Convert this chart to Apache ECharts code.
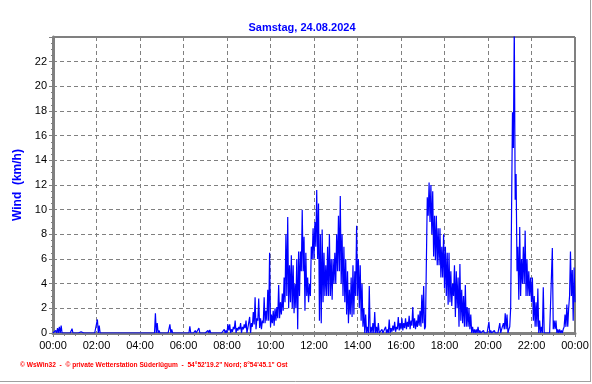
<!DOCTYPE html>
<html>
<head>
<meta charset="utf-8">
<script src="https://cdn.jsdelivr.net/npm/echarts@6/dist/echarts.min.js"></script>
<style>
  html, body { margin: 0; padding: 0; background: #fff; }
  #chart { width: 592px; height: 384px; }
</style>
</head>
<body>
<div id="chart"></div>
<script>
// ---- data ----
const chartTitle = 'Samstag, 24.08.2024';
const yAxisTitle = 'Wind  (km/h)';
const footerText = '\u00A9 WsWin32  -  \u00A9 private Wetterstation S\u00FCderl\u00FCgum  -  54\u00B052\'19.2" Nord; 8\u00B054\'45.1" Ost';
const xTickLabels = ['00:00','02:00','04:00','06:00','08:00','10:00','12:00','14:00','16:00','18:00','20:00','22:00','00:00'];
const yTickValues = [0,2,4,6,8,10,12,14,16,18,20,22];
const binMinutes = 5;
// wind speed (km/h) per 5-minute bin, 00:00 .. 23:55: lowest reading in the bin
const windLow = [
  0,0,0,0,0,0,0,0,0,0,0,0,
  0,0,0,0,0,0,0,0,0,0,0,0,
  0,0,0,0,0,0,0,0,0,0,0,0,
  0,0,0,0,0,0,0,0,0,0,0,0,
  0,0,0,0,0,0,0,0,0,0,0,0,
  0,0,0,0,0,0,0,0,0,0,0,0,
  0,0,0,0,0,0,0,0,0,0,0,0,
  0,0,0,0,0,0,0,0,0,0,0,0,
  0,0.2,0,0.1,0.3,0,0.2,0.3,0,0.3,0.4,0,
  0.3,0,0.5,0.7,0.3,1.0,0.4,0.3,0.8,0.8,1.0,1.0,
  0.5,0.8,0.6,1.0,1.2,1.2,1.5,1.8,2.5,3.0,2.0,2.5,
  2.0,1.6,2.0,0.3,3.0,5.0,5.0,1.8,3.0,2.5,3.0,6.0,
  6.0,7.0,6.0,1.0,0.8,2.5,3.0,3.0,3.0,3.0,2.7,4.0,
  4.0,5.0,5.0,4.0,3.0,2.5,1.5,0.8,1.5,1.3,1.5,3.0,
  3.0,2.0,1.0,0.5,0,0,0,0,0,0,0,0,
  0,0,0,0,0,0,0,0.1,0.2,0.1,0.3,0.2,
  0.3,0.2,0.4,0.3,0.5,0.3,0.6,0.4,0.3,0.5,0.6,0.5,
  0.8,0.3,0.5,9.5,9.0,8.0,6.2,5.9,5.5,5.5,4.5,4.5,
  3.6,3.0,2.3,2.5,2.2,3.0,1.3,2.0,0.5,1.0,0.8,0.5,
  0.5,0.5,0.3,0,0,0,0,0,0,0,0,0,
  0,0,0,0,0,0,0,0,0.2,0.3,0.3,0,
  0.5,2.0,15.0,10.8,5.0,2.7,3.0,4.0,4.0,3.0,3.0,3.0,
  2.5,1.0,0.5,0.5,0,0,0,0,0,0,0,0,
  0.3,0.3,0,0,0,0,0.5,0.5,0.5,3.0,3.0,1.0
];
// highest reading in the same bins
const windHigh = [
  0,0.2,0.4,0.5,0.6,0,0,0,0,0,0.35,0,
  0,0,0,0.1,0,0,0,0,0,0,0,0,
  1.1,0.6,0,0,0,0,0,0,0,0,0,0,
  0,0,0,0,0,0,0,0,0,0,0,0,
  0,0,0,0,0,0,0,0,1.6,0.8,0.2,0,
  0,0,0,0,0.7,0.3,0,0,0,0,0,0,
  0,0,0,0.55,0,0,0.2,0,0.4,0,0,0.15,
  0,0.2,0.25,0,0,0,0,0,0,0,0.3,0.2,
  0.7,0.7,0.3,0.5,1.0,0.4,0.5,0.8,0.5,0.7,1.0,0.4,
  1.3,0.8,1.7,2.9,1.2,2.8,1.2,1.0,2.9,1.8,3.5,6.5,
  1.5,1.8,2.0,2.1,3.9,2.5,3.2,4.5,8.0,9.4,5.5,6.3,
  5.5,4.0,6.0,6.6,6.6,10.0,7.8,6.5,4.5,4.0,7.0,8.5,
  9.0,11.6,10.5,8.0,8.4,6.5,5.5,7.0,8.0,6.0,6.0,6.5,
  8.0,9.5,11.1,8.0,7.0,6.0,5.0,3.5,4.5,5.5,5.0,8.7,
  6.0,5.5,4.0,2.0,1.5,0.5,3.8,0.5,0.8,1.7,0.5,0.8,
  0.1,0.3,0.1,0.5,0.3,1.1,0.4,0.6,0.9,0.5,1.3,0.8,
  1.2,0.8,1.2,0.9,1.4,1.0,2.1,1.2,1.0,1.5,1.8,3.1,
  3.8,0.5,11.0,12.2,12.0,11.5,9.5,9.5,8.5,8.5,7.0,8.0,
  7.0,6.5,6.5,5.0,4.0,5.5,5.0,4.5,5.6,3.5,3.0,3.9,
  2.1,2.0,1.5,0.5,0.3,0.3,0.5,0.2,0.1,0.2,0.1,0,
  0.9,0.2,0,0.2,0.1,0,0.8,0.3,0.8,1.6,1.5,0.3,
  2.0,17.9,25,12.9,7.0,8.6,6.0,7.0,8.3,6.0,5.0,4.5,
  4.5,3.0,2.5,3.6,1.0,0.5,3.7,0,0,0,0,6.9,
  1.0,1.0,0.3,0.3,0.2,0.3,1.5,2.3,2.0,6.6,5.1,5.3
];
const windAtMidnightEnd = 2.5;

// build the line: each bin's low at its start, its high half a bin later
const seriesData = [];
windLow.forEach((lo, i) => {
  seriesData.push([i * binMinutes, lo]);
  seriesData.push([i * binMinutes + binMinutes / 2, windHigh[i]]);
});
seriesData.push([windLow.length * binMinutes, windAtMidnightEnd]);

const FONT = '"Liberation Sans", Arial, sans-serif';

const chart = echarts.init(document.getElementById('chart'), null, { renderer: 'canvas' });
chart.setOption({
  animation: false,
  backgroundColor: '#ffffff',
  title: {
    text: chartTitle,
    left: 297, top: 17, textAlign: 'center',
    textStyle: { color: '#0000ff', fontSize: 11, fontWeight: 'bold', fontFamily: FONT }
  },
  grid: {
    left: 53, right: 17, top: 37, bottom: 51,
    show: true, borderColor: '#000', borderWidth: 1, backgroundColor: 'transparent'
  },
  xAxis: {
    type: 'value', min: 0, max: 1440, interval: 120,
    axisLine: { show: true, lineStyle: { color: '#808080', width: 3 } },
    axisTick: { show: true, length: 4, lineStyle: { color: '#808080', width: 1 } },
    minorTick: { show: true, splitNumber: 4, length: 3, lineStyle: { color: '#808080', width: 1 } },
    axisLabel: {
      color: '#000', fontSize: 11, fontFamily: FONT, margin: 7,
      formatter: v => xTickLabels[Math.round(v / 120)]
    },
    splitLine: { show: true, lineStyle: { color: '#808080', type: [4, 3], width: 1 } }
  },
  yAxis: {
    type: 'value', min: 0, max: 24, interval: 2,
    name: yAxisTitle, nameLocation: 'middle', nameGap: 29, nameRotate: 90,
    nameTextStyle: { color: '#0000ff', fontSize: 12, fontWeight: 'bold', fontFamily: FONT },
    axisLine: { show: true, lineStyle: { color: '#808080', width: 3 } },
    axisTick: { show: true, length: 4, lineStyle: { color: '#808080', width: 1 } },
    minorTick: { show: true, splitNumber: 4, length: 2, lineStyle: { color: '#808080', width: 1 } },
    axisLabel: {
      color: '#000', fontSize: 11, fontFamily: FONT, margin: 6,
      formatter: v => (yTickValues.indexOf(v) >= 0 ? String(v) : '')
    },
    splitLine: { show: true, lineStyle: { color: '#808080', type: [4, 3], width: 1 } }
  },
  series: [{
    type: 'line',
    data: seriesData,
    showSymbol: false,
    symbol: 'none',
    clip: true,
    sampling: null,
    lineStyle: { color: '#0000ff', width: 1.2 },
    itemStyle: { color: '#0000ff' },
    z: 3
  }],
  graphic: [
    {
      type: 'text', left: 20, top: 362,
      style: { text: footerText, fill: '#ff0000', font: 'bold 6.6px ' + FONT }
    },
    {
      type: 'line', shape: { x1: 590.5, y1: 0, x2: 590.5, y2: 382 },
      style: { stroke: '#a0a0a0', lineWidth: 1 }
    },
    {
      type: 'line', shape: { x1: 0, y1: 381.5, x2: 591, y2: 381.5 },
      style: { stroke: '#a0a0a0', lineWidth: 1 }
    }
  ]
});
</script>
</body>
</html>
